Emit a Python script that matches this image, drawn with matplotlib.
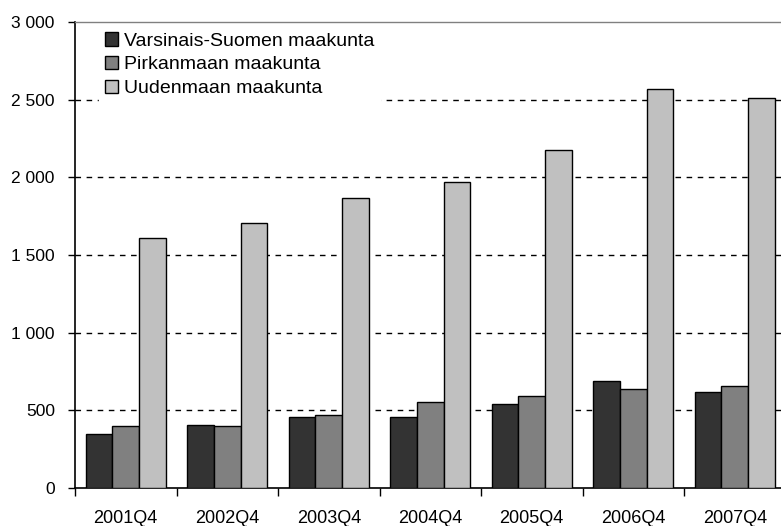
import numpy as np
import matplotlib.pyplot as plt
from matplotlib.ticker import FuncFormatter, FixedLocator

plt.rcParams['font.family'] = ['Liberation Sans', 'DejaVu Sans']

quarters = ['2001Q4', '2002Q4', '2003Q4', '2004Q4', '2005Q4', '2006Q4', '2007Q4']
varsinais = [346, 407, 459, 459, 543, 688, 615]
pirkanmaa = [396, 396, 468, 552, 595, 636, 658]
uusimaa = [1609, 1705, 1866, 1971, 2176, 2570, 2508]

series = [
    ('Varsinais-Suomen maakunta', varsinais, '#333333'),
    ('Pirkanmaan maakunta', pirkanmaa, '#808080'),
    ('Uudenmaan maakunta', uusimaa, '#c0c0c0'),
]

fig = plt.figure(figsize=(7.81, 5.26), dpi=100)
ax = fig.add_axes([75 / 781, 38 / 526, 710.5 / 781, 466 / 526])

x = np.arange(len(quarters))
w = 0.79 / 3
for i, (name, vals, col) in enumerate(series):
    ax.bar(x + (i - 1) * w, vals, width=w, color=col, edgecolor='black',
           linewidth=1, label=name, zorder=3)

ax.set_xlim(-0.5, len(quarters) - 0.5)
ax.set_ylim(0, 3000)
ax.set_yticks(np.arange(0, 3001, 500))
ax.yaxis.set_major_formatter(FuncFormatter(lambda v, p: f'{int(v):,}'.replace(',', ' ')))

# dashed gridlines
for yv in range(500, 3000, 500):
    ax.axhline(yv, color='black', linestyle=(0, (4, 4)), linewidth=1, zorder=1)

# category boundary ticks, labels centred
ax.xaxis.set_major_locator(FixedLocator(np.arange(-0.5, len(quarters), 1.0)))
ax.xaxis.set_minor_locator(FixedLocator(x))
ax.set_xticklabels([])
ax.set_xticklabels(quarters, minor=True)
ax.tick_params(axis='x', which='major', direction='out', length=6, width=1, color='black')
ax.tick_params(axis='x', which='minor', length=0, pad=16, labelsize=13)
ax.tick_params(axis='y', direction='out', length=5, width=1, pad=9.5, labelsize=12.5)

for s in ['left', 'bottom']:
    ax.spines[s].set_color('black')
    ax.spines[s].set_linewidth(1.2)
ax.spines['top'].set_color('#808080')
ax.spines['top'].set_linewidth(1)
ax.spines['right'].set_visible(False)

leg = ax.legend(loc='upper left', bbox_to_anchor=(0.02, 1.012), frameon=True,
                fontsize=14, handlelength=0.7, handleheight=0.7, handletextpad=0.3,
                labelspacing=0.32, borderpad=0.3, fancybox=False)
leg.get_frame().set_edgecolor('white')
leg.get_frame().set_facecolor('white')
leg.get_frame().set_alpha(1)
leg.set_zorder(5)

fig.savefig('out.png', dpi=100)
